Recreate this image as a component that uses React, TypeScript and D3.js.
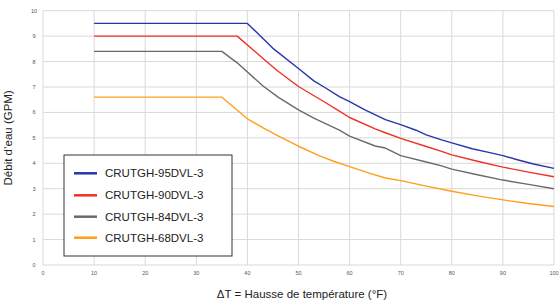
import React from "react";
import * as d3 from "d3";

const xTicks = [0, 10, 20, 30, 40, 50, 60, 70, 80, 90, 100];
const yTicks = [0, 1, 2, 3, 4, 5, 6, 7, 8, 9, 10];

const seriesNames = ["CRUTGH-95DVL-3", "CRUTGH-90DVL-3", "CRUTGH-84DVL-3", "CRUTGH-68DVL-3"];
const seriesColors = ["#2a35a8", "#ee3124", "#6a6a6a", "#ff9e1b"];

const blue: [number, number][] = [
  [10, 9.5], [40, 9.5], [45, 8.52], [50, 7.73], [53, 7.24], [55, 7.0], [58, 6.62], [60, 6.42],
  [63, 6.1], [67, 5.72], [70, 5.52], [73, 5.3], [75, 5.12], [78, 4.92], [80, 4.8], [84, 4.57],
  [87, 4.44], [90, 4.3], [93, 4.13], [96, 3.97], [100, 3.8],
];
const red: [number, number][] = [
  [10, 9.0], [38, 9.0], [43, 8.13], [46, 7.62], [50, 7.02], [55, 6.42], [58, 6.05], [60, 5.8],
  [65, 5.35], [67, 5.2], [70, 4.98], [75, 4.66], [78, 4.47], [80, 4.33], [85, 4.08],
  [90, 3.85], [95, 3.65], [100, 3.47],
];
const gray: [number, number][] = [
  [10, 8.4], [35, 8.4], [38, 7.95], [43, 7.05], [46, 6.6], [50, 6.1], [53, 5.78], [58, 5.3],
  [60, 5.07], [65, 4.68], [67, 4.6], [70, 4.3], [75, 4.05], [78, 3.9], [80, 3.77], [85, 3.55],
  [90, 3.34], [95, 3.17], [100, 3.0],
];
const orange: [number, number][] = [
  [10, 6.6], [35, 6.6], [40, 5.75], [43, 5.4], [46, 5.08], [50, 4.67], [54, 4.3], [57, 4.07],
  [60, 3.87], [64, 3.6], [67, 3.42], [70, 3.32], [75, 3.1], [80, 2.9], [85, 2.72], [90, 2.56],
  [95, 2.42], [100, 2.3],
];

const allSeries = [blue, red, gray, orange];

export default function App() {
  const W = 560, H = 305;
  const left = 43, right = 554, top = 10.7, bottom = 265;
  const x = d3.scaleLinear().domain([0, 100]).range([left, right]);
  const y = d3.scaleLinear().domain([0, 10]).range([bottom, top]);
  const line = d3.line<[number, number]>().x(d => x(d[0])).y(d => y(d[1]));
  const font = "Liberation Sans, Arial, Helvetica, sans-serif";

  const lgX = 64, lgY = 155, lgW = 168, lgH = 101;
  const lgRowY = [173.3, 195.3, 216.7, 237.7];

  return (
    <svg width={W} height={H} style={{ position: "absolute", left: 0, top: 0 }} fontFamily={font}>
      <rect width={W} height={H} fill="#fff" />
      {xTicks.map(t => (
        <line key={"gx" + t} x1={x(t)} x2={x(t)} y1={top} y2={bottom} stroke="#d9d9d9" strokeWidth={1} />
      ))}
      {yTicks.map(t => (
        <line key={"gy" + t} x1={left} x2={right} y1={y(t)} y2={y(t)} stroke="#d9d9d9" strokeWidth={1} />
      ))}
      {xTicks.map(t => (
        <text key={"tx" + t} x={x(t)} y={bottom + 10} fontSize={5.5} fill="#555" textAnchor="middle">{t}</text>
      ))}
      {yTicks.map(t => (
        <text key={"ty" + t} x={left - 9} y={y(t) + 2} fontSize={5.5} fill="#555" textAnchor="middle">{t}</text>
      ))}
      {allSeries.map((s, i) => (
        <path key={"s" + i} d={line(s) || ""} fill="none" stroke={seriesColors[i]} strokeWidth={1.4} strokeLinejoin="round" />
      ))}
      <rect x={lgX} y={lgY} width={lgW} height={lgH} fill="#fff" stroke="#333" strokeWidth={1} />
      {seriesNames.map((n, i) => (
        <g key={"lg" + i}>
          <line x1={74} x2={97} y1={lgRowY[i]} y2={lgRowY[i]} stroke={seriesColors[i]} strokeWidth={2.5} />
          <text x={105} y={lgRowY[i] + 4} fontSize={11.5} fill="#222">{n}</text>
        </g>
      ))}
      <text transform={`translate(12, ${(top + bottom) / 2}) rotate(-90)`} textAnchor="middle" fontSize={11.5} fill="#222">Débit d’eau (GPM)</text>
      <text x={302} y={298} textAnchor="middle" fontSize={11.5} fill="#222">ΔT = Hausse de température (°F)</text>
    </svg>
  );
}
